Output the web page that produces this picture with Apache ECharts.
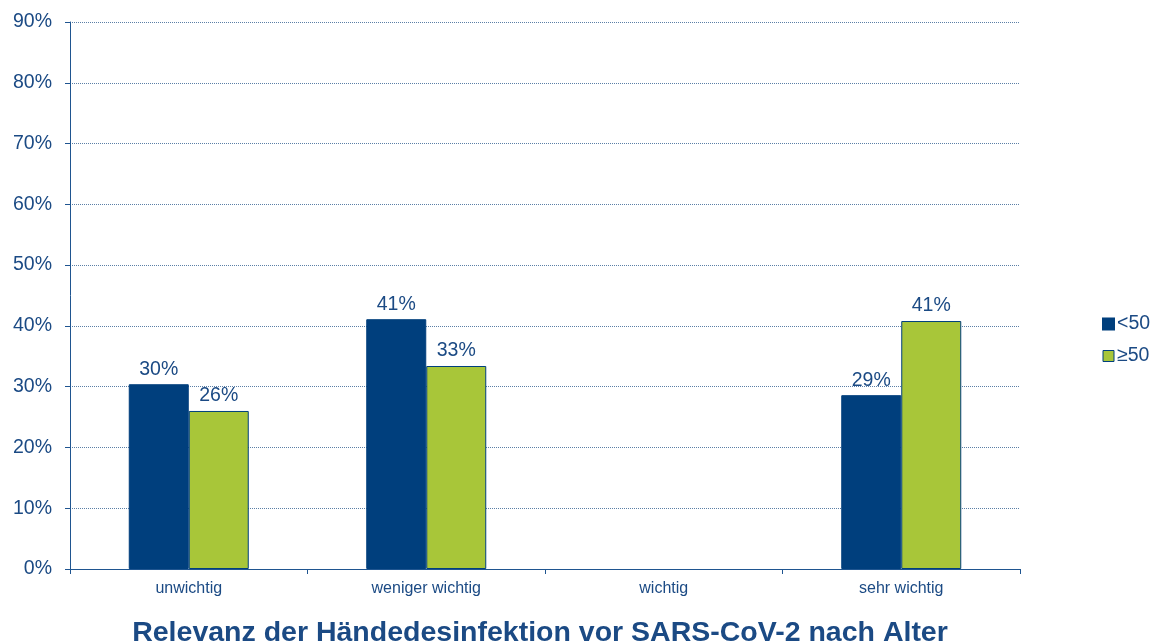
<!DOCTYPE html>
<html>
<head>
<meta charset="utf-8">
<script src="https://cdn.jsdelivr.net/npm/echarts@6/dist/echarts.min.js"></script>
<style>
  html, body { margin: 0; padding: 0; background: #fff; }
  #chart { width: 1163px; height: 644px; }
</style>
</head>
<body>
<div id="chart"></div>
<script>
const categories = ['unwichtig', 'weniger wichtig', 'wichtig', 'sehr wichtig']
const under50 = [30.4, 41.1, null, 28.6]
const over50 = [26.0, 33.4, null, 40.8]

const textBlue = '#1b4a84'
const darkBlue = '#003f7d'
const green = '#a8c639'

const chart = echarts.init(document.getElementById('chart'))

const labelOpt = {
  show: true,
  position: 'top',
  distance: 5,
  color: textBlue,
  fontSize: 19.5,
  fontFamily: 'Liberation Sans',
  formatter: p => Math.round(p.value) + '%'
}

chart.setOption({
  animation: false,
  textStyle: { fontFamily: 'Liberation Sans' },
  title: {
    text: 'Relevanz der Händedesinfektion vor SARS-CoV-2 nach Alter',
    left: 535,
    textAlign: 'center',
    top: 614,
    textStyle: { color: textBlue, fontSize: 28.5, fontWeight: 'bold', fontFamily: 'Liberation Sans' }
  },
  legend: {
    orient: 'vertical',
    left: 1097,
    top: 309,
    itemWidth: 11,
    itemHeight: 11,
    itemGap: 12,
    icon: 'rect',
    textStyle: { color: textBlue, fontSize: 19.5, padding: [0, 0, 0, -2] },
    data: [
      { name: '<50' },
      { name: '≥50', itemStyle: { borderColor: darkBlue, borderWidth: 1 } }
    ]
  },
  grid: { left: 70, right: 143, top: 22, bottom: 75 },
  xAxis: {
    type: 'category',
    data: categories,
    axisLine: { lineStyle: { color: '#1f5590', width: 1 } },
    axisTick: { show: true, length: 5, lineStyle: { color: '#1f5590' } },
    axisLabel: { color: textBlue, fontSize: 16, margin: 12 }
  },
  yAxis: {
    type: 'value',
    min: 0,
    max: 90,
    interval: 10,
    axisLine: { show: true, lineStyle: { color: '#1f5590', width: 1 } },
    axisTick: { show: true, length: 5, lineStyle: { color: '#1f5590' } },
    axisLabel: { color: textBlue, fontSize: 19.5, margin: 18, formatter: '{value}%' },
    splitLine: { lineStyle: { color: '#5b7fa6', type: [1, 1], width: 1 } }
  },
  series: [
    {
      name: '<50',
      type: 'bar',
      data: under50,
      barWidth: 60,
      barGap: '0%',
      itemStyle: { color: darkBlue, borderColor: darkBlue, borderWidth: 1 },
      label: labelOpt
    },
    {
      name: '≥50',
      type: 'bar',
      data: over50,
      barWidth: 60,
      itemStyle: { color: green, borderColor: darkBlue, borderWidth: 1 },
      label: labelOpt
    }
  ]
})
</script>
</body>
</html>
